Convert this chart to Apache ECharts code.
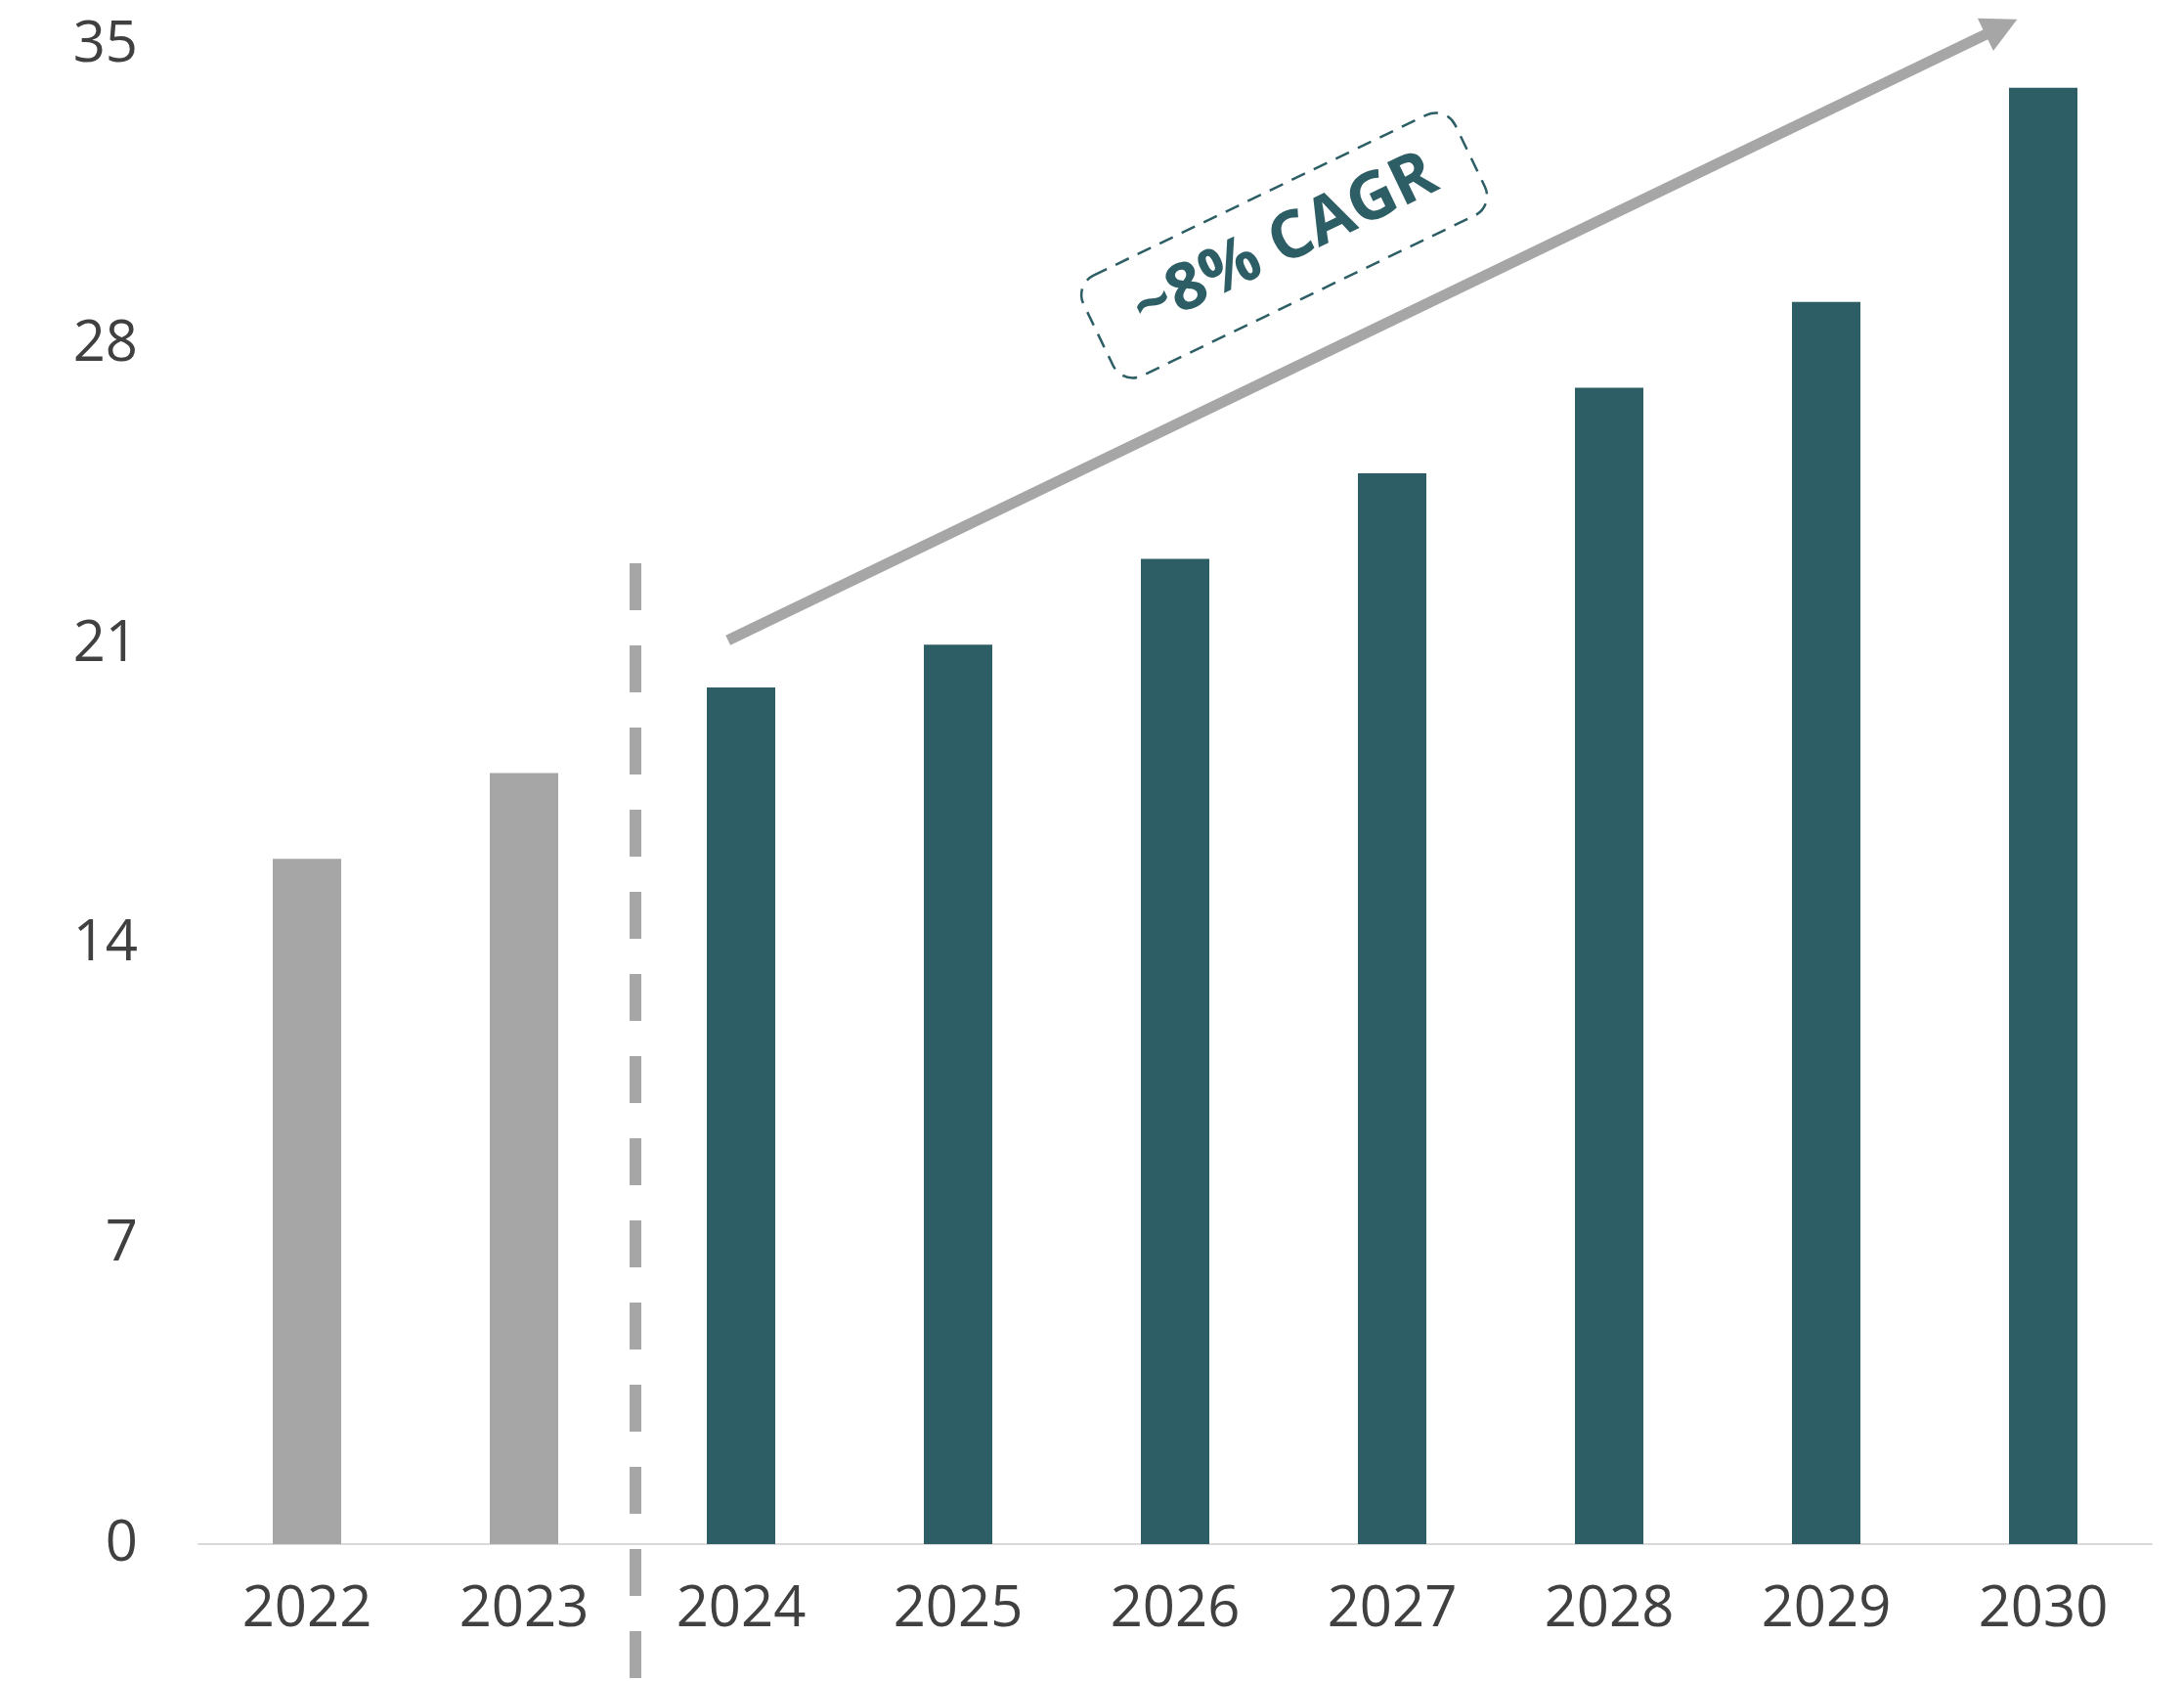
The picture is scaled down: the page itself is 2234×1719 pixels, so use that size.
<!DOCTYPE html>
<html>
<head>
<meta charset="utf-8">
<script src="https://cdn.jsdelivr.net/npm/echarts@6/dist/echarts.min.js"></script>
<style>
  html, body { margin: 0; padding: 0; background: #ffffff; }
  #chart { width: 2234px; height: 1719px; }
</style>
</head>
<body>
<div id="chart"></div>
<script>
// Market size by year: reported years, then the projection
const years = ['2022', '2023', '2024', '2025', '2026', '2027', '2028', '2029', '2030'];
const historical = [16, 18];
const forecast = [20, 21, 23, 25, 27, 29, 34];
const yTicks = [0, 7, 14, 21, 28, 35];
const cagrLabel = '~8% CAGR';

const GRAY = '#a6a6a6';
const TEAL = '#2d5e65';
const TEXT = '#404040';
const FONT = '"Open Sans", "Noto Sans", sans-serif';

const chart = echarts.init(document.getElementById('chart'), null, { renderer: 'canvas' });
const values = historical.concat(forecast);

chart.setOption({
  animation: false,
  backgroundColor: '#ffffff',
  grid: { left: 203, right: 33, top: 46, bottom: 140 },
  xAxis: {
    type: 'category',
    data: years,
    axisLine: { lineStyle: { color: '#d9d9d9', width: 2 } },
    axisTick: { show: false },
    axisLabel: { color: TEXT, fontFamily: FONT, fontSize: 58, margin: 38 }
  },
  yAxis: {
    type: 'value',
    min: yTicks[0],
    max: yTicks[yTicks.length - 1],
    interval: yTicks[1] - yTicks[0],
    splitLine: { show: false },
    axisLine: { show: false },
    axisTick: { show: false },
    axisLabel: { color: TEXT, fontFamily: FONT, fontSize: 58, margin: 62 }
  },
  series: [{
    type: 'bar',
    barWidth: 70,
    data: values.map((v, i) => ({
      value: v,
      itemStyle: { color: i < historical.length ? GRAY : TEAL }
    }))
  }]
});

// Divider between reported and projected years, plus the growth arrow and its label
function drawOverlay() {
  const toPx = (i, v) => chart.convertToPixel({ gridIndex: 0 }, [i, v]);
  const cx = i => toPx(i, 0)[0];
  const vy = v => toPx(0, v)[1];
  const band = (cx(years.length - 1) - cx(0)) / (years.length - 1);

  // dashed divider
  const splitIdx = historical.length;
  const dx = (cx(splitIdx - 1) + cx(splitIdx)) / 2 + 3;
  const divider = {
    type: 'line', silent: true, z: 10,
    shape: { x1: dx, y1: vy(22.9), x2: dx, y2: chart.getHeight() },
    style: { stroke: GRAY, lineWidth: 12, lineDash: [48, 36], lineCap: 'butt' }
  };

  // growth arrow from the first projected year to the last one
  const s = [cx(splitIdx) - 0.06 * band, vy(21.1)];
  const t = [cx(years.length - 1) - 0.12 * band, vy(35.6)];
  const len = Math.hypot(t[0] - s[0], t[1] - s[1]);
  const u = [(t[0] - s[0]) / len, (t[1] - s[1]) / len];
  const n = [u[1], -u[0]];
  const headLen = 36, headHalf = 18.5;
  const b = [t[0] - headLen * u[0], t[1] - headLen * u[1]];
  const shaft = {
    type: 'line', silent: true, z: 10,
    shape: { x1: s[0], y1: s[1], x2: b[0] + 2 * u[0], y2: b[1] + 2 * u[1] },
    style: { stroke: GRAY, lineWidth: 11, lineCap: 'butt' }
  };
  const head = {
    type: 'polygon', silent: true, z: 10,
    shape: { points: [t, [b[0] + headHalf * n[0], b[1] + headHalf * n[1]], [b[0] - headHalf * n[0], b[1] - headHalf * n[1]]] },
    style: { fill: GRAY }
  };

  // CAGR tag, rotated to follow the arrow
  const mid = [(s[0] + t[0]) / 2, (s[1] + t[1]) / 2];
  const along = -44, perp = 117;
  const bc = [mid[0] + along * u[0] + perp * n[0], mid[1] + along * u[1] + perp * n[1]];
  const angle = Math.atan2(-(t[1] - s[1]), t[0] - s[0]);
  const boxW = 422, boxH = 114;
  const tag = {
    type: 'group', x: bc[0], y: bc[1], rotation: angle, z: 11, silent: true,
    children: [
      {
        type: 'rect',
        shape: { x: -boxW / 2, y: -boxH / 2, width: boxW, height: boxH, r: 22 },
        style: { fill: 'none', stroke: TEAL, lineWidth: 2.5, lineDash: [15, 10] }
      },
      {
        type: 'text',
        style: {
          text: cagrLabel, x: 2, y: -2,
          font: 'bold 67px ' + FONT,
          fill: TEAL,
          textAlign: 'center', textVerticalAlign: 'middle'
        }
      }
    ]
  };

  chart.setOption({ graphic: [divider, shaft, head, tag] });
}

drawOverlay();
</script>
</body>
</html>
